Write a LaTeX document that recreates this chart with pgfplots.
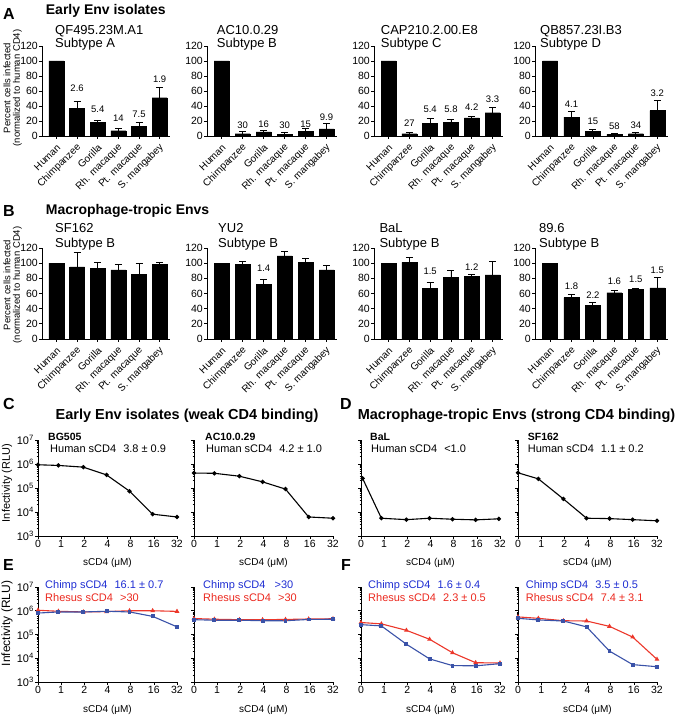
\documentclass[border=0pt]{standalone}
\usepackage{pgfplots}
\pgfplotsset{compat=1.18}
\usepackage{fontspec}
\setmainfont{Liberation Sans}
\definecolor{tblue}{RGB}{30,45,210}
\definecolor{tred}{RGB}{235,40,30}
\definecolor{lblue}{RGB}{58,82,168}
\definecolor{lred}{RGB}{236,55,42}
\newcommand{\fs}[1]{\fontsize{#1}{#1}\selectfont}
\pgfplotsset{
 barax/.style={
  scale only axis, clip=false,
  axis lines*=left, axis line style={-, line width=0.9pt},
  ymin=0, ymax=120, ytick={0,20,...,120},
  xmin=-0.7, xmax=5.5, xtick={0,...,5},
  xticklabels={Human,Chimpanzee,Gorilla,Rh. macaque,Pt. macaque,S. mangabey},
  xticklabel style={font=\fs{10}, anchor=east, xshift=3pt, yshift=-6pt, rotate=45, inner sep=1pt},
  yticklabel style={font=\fs{10.5}, inner sep=1pt},
  /pgf/number format/assume math mode=true,
  tick align=outside, major tick length=3pt, tick style={black, line width=0.8pt},
 },
 bars/.style={ybar, bar width=15pt, fill=black, draw=black,
  error bars/y dir=plus, error bars/y explicit,
  error bars/error bar style={line width=0.9pt, black},
  error bars/error mark options={rotate=90, mark size=3.5pt, line width=0.9pt, black}},
 blab/.style={draw=none, mark=none, nodes near coords, point meta=explicit symbolic,
  nodes near coords align={center},
  every node near coord/.append style={font=\fs{9.5}, inner sep=0pt}},
 logax/.style={
  scale only axis, clip=false, width=139pt,
  ymin=1e3, ymax=1e7, xmin=0, xmax=6,
  axis lines*=left, axis line style={-, line width=0.8pt},
  ytick={1e3,1e4,1e5,1e6,1e7},
  yticklabels={10\textsuperscript{3},10\textsuperscript{4},10\textsuperscript{5},10\textsuperscript{6},10\textsuperscript{7}},
  minor ytick={2e3,3e3,4e3,5e3,6e3,7e3,8e3,9e3,2e4,3e4,4e4,5e4,6e4,7e4,8e4,9e4,2e5,3e5,4e5,5e5,6e5,7e5,8e5,9e5,2e6,3e6,4e6,5e6,6e6,7e6,8e6,9e6},
  xtick={0,...,6}, xticklabels={0,1,2,4,8,16,32},
  xticklabel style={font=\fs{10.5}, inner sep=1pt},
  yticklabel style={font=\fs{11}, inner sep=1pt},
  tick align=outside, major tick length=3pt, minor tick length=1.5pt,
  tick style={black, line width=0.6pt},
  xlabel={sCD4 (μM)},
  xlabel style={font=\fs{10}, at={(axis description cs:0.5,0)}, anchor=base, yshift=-30pt},
 },
 blk/.style={black, line width=1.1pt, mark=*, mark size=1.6pt},
 blu/.style={lblue, line width=1.1pt, mark=square*, mark size=1.4pt, mark options={lblue}},
 rd/.style={lred, line width=1.1pt, mark=triangle*, mark size=1.7pt, mark options={lred}},
}
\begin{document}
\begin{tikzpicture}[x=1pt,y=1pt]
\useasboundingbox (0,0) rectangle (675,716);

% ---------------- Panel A ----------------
\node[anchor=base west, font=\fs{16}\bfseries, inner sep=0pt] at (3,696) {A};
\node[anchor=base west, font=\fs{14}\bfseries, inner sep=0pt] at (45.7,701) {Early Env isolates};
\node[rotate=90, font=\fs{9.5}, inner sep=0pt] at (7,628) {Percent cells infected};
\node[rotate=90, font=\fs{9.5}, inner sep=0pt] at (17.5,628) {(normalized to human CD4)};

\node[anchor=base west, font=\fs{13}, inner sep=0pt] at (55,681.7) {QF495.23M.A1};
\node[anchor=base west, font=\fs{13}, inner sep=0pt] at (55,668) {Subtype A};
\node[anchor=base west, font=\fs{13}, inner sep=0pt] at (216.7,681.7) {AC10.0.29};
\node[anchor=base west, font=\fs{13}, inner sep=0pt] at (216.7,668) {Subtype B};
\node[anchor=base west, font=\fs{13}, inner sep=0pt] at (380.7,681.7) {CAP210.2.00.E8};
\node[anchor=base west, font=\fs{13}, inner sep=0pt] at (380.7,668) {Subtype C};
\node[anchor=base west, font=\fs{13}, inner sep=0pt] at (540,681.7) {QB857.23I.B3};
\node[anchor=base west, font=\fs{13}, inner sep=0pt] at (540,668) {Subtype D};

\begin{axis}[barax, width=128pt, height=90pt, at={(42pt,580pt)}, anchor=south west]
\addplot[bars] table[x=x,y=y,y error=e]{
x y e
0 100 0
1 37 9
2 18.5 2
3 7 3.5
4 13 5
5 51 14
};
\addplot[blab] coordinates {(1,63.6)[2.6] (2,35.6)[5.4] (3,23.6)[14] (4,29.3)[7.5] (5,76)[1.9]};
\end{axis}

\begin{axis}[barax, width=130pt, height=90pt, at={(207pt,580pt)}, anchor=south west]
\addplot[bars] table[x=x,y=y,y error=e]{
x y e
0 100 0
1 3 2.5
2 5.5 1.5
3 2.5 2.5
4 6 4
5 9.5 7.5
};
\addplot[blab] coordinates {(1,14.7)[30] (2,16)[16] (3,14.7)[30] (4,16)[15] (5,24.9)[9.9]};
\end{axis}

\begin{axis}[barax, width=129pt, height=90pt, at={(374pt,580pt)}, anchor=south west]
\addplot[bars] table[x=x,y=y,y error=e]{
x y e
0 100 0
1 3 2
2 17 6.5
3 18 3.5
4 24 2.5
5 31 7.5
};
\addplot[blab] coordinates {(1,16.9)[27] (2,35.6)[5.4] (3,35.6)[5.8] (4,38.2)[4.2] (5,49.3)[3.3]};
\end{axis}

\begin{axis}[barax, width=133pt, height=90pt, at={(535pt,580pt)}, anchor=south west]
\addplot[bars] table[x=x,y=y,y error=e]{
x y e
0 100 0
1 25 7.5
2 6.6 2.2
3 2.2 1
4 3 2.3
5 33.8 13
};
\addplot[blab] coordinates {(1,42.5)[4.1] (2,19)[15] (3,12.5)[58] (4,14)[34] (5,57.5)[3.2]};
\end{axis}

% ---------------- Panel B ----------------
\node[anchor=base west, font=\fs{16}\bfseries, inner sep=0pt] at (3,499) {B};
\node[anchor=base west, font=\fs{14}\bfseries, inner sep=0pt] at (45.7,501) {Macrophage-tropic Envs};
\node[rotate=90, font=\fs{9.5}, inner sep=0pt] at (7,431) {Percent cells infected};
\node[rotate=90, font=\fs{9.5}, inner sep=0pt] at (17.5,431) {(normalized to human CD4)};

\node[anchor=base west, font=\fs{13}, inner sep=0pt] at (55,483.3) {SF162};
\node[anchor=base west, font=\fs{13}, inner sep=0pt] at (55,468.7) {Subtype B};
\node[anchor=base west, font=\fs{13}, inner sep=0pt] at (218,483.3) {YU2};
\node[anchor=base west, font=\fs{13}, inner sep=0pt] at (218,468.7) {Subtype B};
\node[anchor=base west, font=\fs{13}, inner sep=0pt] at (379.3,483.3) {BaL};
\node[anchor=base west, font=\fs{13}, inner sep=0pt] at (379.3,468.7) {Subtype B};
\node[anchor=base west, font=\fs{13}, inner sep=0pt] at (539,483.3) {89.6};
\node[anchor=base west, font=\fs{13}, inner sep=0pt] at (539,468.7) {Subtype B};

\begin{axis}[barax, width=128pt, height=91pt, at={(42pt,377pt)}, anchor=south west]
\addplot[bars] table[x=x,y=y,y error=e]{
x y e
0 100 0
1 95 19
2 93.5 8
3 91 7.5
4 85 14
5 98 3
};
\end{axis}

\begin{axis}[barax, width=130pt, height=91pt, at={(207pt,377pt)}, anchor=south west]
\addplot[bars] table[x=x,y=y,y error=e]{
x y e
0 100 0
1 98 4
2 72 7
3 109.5 5.5
4 101.5 5
5 91 6
};
\addplot[blab] coordinates {(2,93.4)[1.4]};
\end{axis}

\begin{axis}[barax, width=129pt, height=91pt, at={(374pt,377pt)}, anchor=south west]
\addplot[bars] table[x=x,y=y,y error=e]{
x y e
0 100 0
1 101 7
2 66.5 8.5
3 81.5 9
4 82.5 2
5 84.5 17.5
};
\addplot[blab] coordinates {(2,89)[1.5] (4,94.3)[1.2]};
\end{axis}

\begin{axis}[barax, width=133pt, height=91pt, at={(535pt,377pt)}, anchor=south west]
\addplot[bars] table[x=x,y=y,y error=e]{
x y e
0 100 0
1 54.5 4.5
2 44.5 3.5
3 61 3.5
4 65.5 1.2
5 67.5 14
};
\addplot[blab] coordinates {(1,70.2)[1.8] (2,58.3)[2.2] (3,76.8)[1.6] (4,79)[1.5] (5,91.2)[1.5]};
\end{axis}

% ---------------- Panels C and D ----------------
\node[anchor=base west, font=\fs{16}\bfseries, inner sep=0pt] at (3,306) {C};
\node[anchor=base, font=\fs{14.5}\bfseries, inner sep=0pt] at (187,296) {Early Env isolates (weak CD4 binding)};
\node[anchor=base west, font=\fs{16}\bfseries, inner sep=0pt] at (340,306) {D};
\node[anchor=base, font=\fs{14.5}\bfseries, inner sep=0pt] at (516.5,296) {Macrophage-tropic Envs (strong CD4 binding)};
\node[rotate=90, font=\fs{11}, inner sep=0pt] at (7,233) {Infectivity (RLU)};

\node[anchor=base west, font=\fs{10.5}\bfseries, inner sep=0pt] at (48,275.3) {BG505};
\node[anchor=base west, font=\fs{11}, inner sep=0pt] at (50,263) {Human sCD4\hspace{4pt} 3.8 ± 0.9};
\node[anchor=base west, font=\fs{10.5}\bfseries, inner sep=0pt] at (205,275.3) {AC10.0.29};
\node[anchor=base west, font=\fs{11}, inner sep=0pt] at (206,263) {Human sCD4\hspace{4pt} 4.2 ± 1.0};
\node[anchor=base west, font=\fs{10.5}\bfseries, inner sep=0pt] at (370,275.3) {BaL};
\node[anchor=base west, font=\fs{11}, inner sep=0pt] at (371,263) {Human sCD4\hspace{4pt} <1.0};
\node[anchor=base west, font=\fs{10.5}\bfseries, inner sep=0pt] at (527.7,275.3) {SF162};
\node[anchor=base west, font=\fs{11}, inner sep=0pt] at (527.7,263) {Human sCD4\hspace{4pt} 1.1 ± 0.2};

\begin{semilogyaxis}[logax, height=96pt, at={(38pt,180pt)}, anchor=south west]
\addplot[blk] coordinates {(0,9.3e5) (0.88,8.7e5) (1.96,7.4e5) (2.96,3.5e5) (3.95,7.4e4) (4.95,8.1e3) (6,6.2e3)};
\end{semilogyaxis}
\begin{semilogyaxis}[logax, height=96pt, yticklabels={}, at={(194pt,180pt)}, anchor=south west]
\addplot[blk] coordinates {(0,4.2e5) (0.88,4.1e5) (1.96,3.1e5) (2.96,1.8e5) (3.95,9e4) (4.95,6.2e3) (6,5.5e3)};
\end{semilogyaxis}
\begin{semilogyaxis}[logax, height=96pt, yticklabels={}, at={(361pt,180pt)}, anchor=south west]
\addplot[blk] coordinates {(0.07,2.5e5) (0.88,5.5e3) (1.96,4.8e3) (2.96,5.5e3) (3.95,5.0e3) (4.95,4.7e3) (5.95,5.2e3)};
\end{semilogyaxis}
\begin{semilogyaxis}[logax, height=96pt, yticklabels={}, at={(518pt,180pt)}, anchor=south west]
\addplot[blk] coordinates {(0,4.3e5) (0.88,2.4e5) (1.96,3.5e4) (2.96,5.5e3) (3.95,5.3e3) (4.95,4.8e3) (6,4.3e3)};
\end{semilogyaxis}

% ---------------- Panels E and F ----------------
\node[anchor=base west, font=\fs{16}\bfseries, inner sep=0pt] at (3,145) {E};
\node[anchor=base west, font=\fs{16}\bfseries, inner sep=0pt] at (341,145) {F};
\node[rotate=90, font=\fs{12}, inner sep=0pt] at (7,92.5) {Infectivity (RLU)};

\node[anchor=base west, font=\fs{11}, text=tblue, inner sep=0pt] at (45,127) {Chimp sCD4\hspace{4pt} 16.1 ± 0.7};
\node[anchor=base west, font=\fs{11}, text=tred, inner sep=0pt] at (45,114) {Rhesus sCD4\hspace{4pt} >30};
\node[anchor=base west, font=\fs{11}, text=tblue, inner sep=0pt] at (203,127) {Chimp sCD4\hspace{6pt} >30};
\node[anchor=base west, font=\fs{11}, text=tred, inner sep=0pt] at (203,114) {Rhesus sCD4\hspace{4pt} >30};
\node[anchor=base west, font=\fs{11}, text=tblue, inner sep=0pt] at (368,127) {Chimp sCD4\hspace{4pt} 1.6 ± 0.4};
\node[anchor=base west, font=\fs{11}, text=tred, inner sep=0pt] at (368,114) {Rhesus sCD4\hspace{4pt} 2.3 ± 0.5};
\node[anchor=base west, font=\fs{11}, text=tblue, inner sep=0pt] at (525.7,127) {Chimp sCD4\hspace{4pt} 3.5 ± 0.5};
\node[anchor=base west, font=\fs{11}, text=tred, inner sep=0pt] at (525.7,114) {Rhesus sCD4\hspace{4pt} 7.4 ± 3.1};

\begin{semilogyaxis}[logax, height=95pt, at={(38pt,34pt)}, anchor=south west]
\addplot[rd] coordinates {(0,1.05e6) (0.88,9.5e5) (1.96,8.9e5) (2.96,9.2e5) (3.95,1.0e6) (4.95,1.0e6) (6,9.4e5)};
\addplot[blu] coordinates {(0,8.0e5) (0.88,8.9e5) (1.96,8.9e5) (2.96,9.5e5) (3.95,8.9e5) (4.95,5.8e5) (6,2.1e5)};
\end{semilogyaxis}
\begin{semilogyaxis}[logax, height=95pt, yticklabels={}, at={(194pt,34pt)}, anchor=south west]
\addplot[rd] coordinates {(0,4.7e5) (0.88,4.4e5) (1.96,4.2e5) (2.96,4.2e5) (3.95,4.3e5) (4.95,4.5e5) (6,4.6e5)};
\addplot[blu] coordinates {(0,4.2e5) (0.88,4.0e5) (1.96,4.0e5) (2.96,3.8e5) (3.95,3.8e5) (4.95,4.3e5) (6,4.4e5)};
\end{semilogyaxis}
\begin{semilogyaxis}[logax, height=95pt, yticklabels={}, at={(361pt,34pt)}, anchor=south west]
\addplot[rd] coordinates {(0,3.2e5) (0.88,2.8e5) (1.96,1.5e5) (2.96,6.3e4) (3.95,1.7e4) (4.95,6.5e3) (6,6.3e3)};
\addplot[blu] coordinates {(0,2.6e5) (0.88,2.3e5) (1.96,3.9e4) (2.96,9.4e3) (3.95,4.9e3) (4.95,4.8e3) (6,5.9e3)};
\end{semilogyaxis}
\begin{semilogyaxis}[logax, height=95pt, yticklabels={}, at={(518pt,34pt)}, anchor=south west]
\addplot[rd] coordinates {(0,5.5e5) (0.88,4.8e5) (1.96,3.8e5) (2.96,3.7e5) (3.95,2.2e5) (4.95,7.8e4) (6,9.0e3)};
\addplot[blu] coordinates {(0,4.8e5) (0.88,4.1e5) (1.96,3.7e5) (2.96,2.1e5) (3.95,2.0e4) (4.95,5.4e3) (6,4.4e3)};
\end{semilogyaxis}
\end{tikzpicture}
\end{document}
